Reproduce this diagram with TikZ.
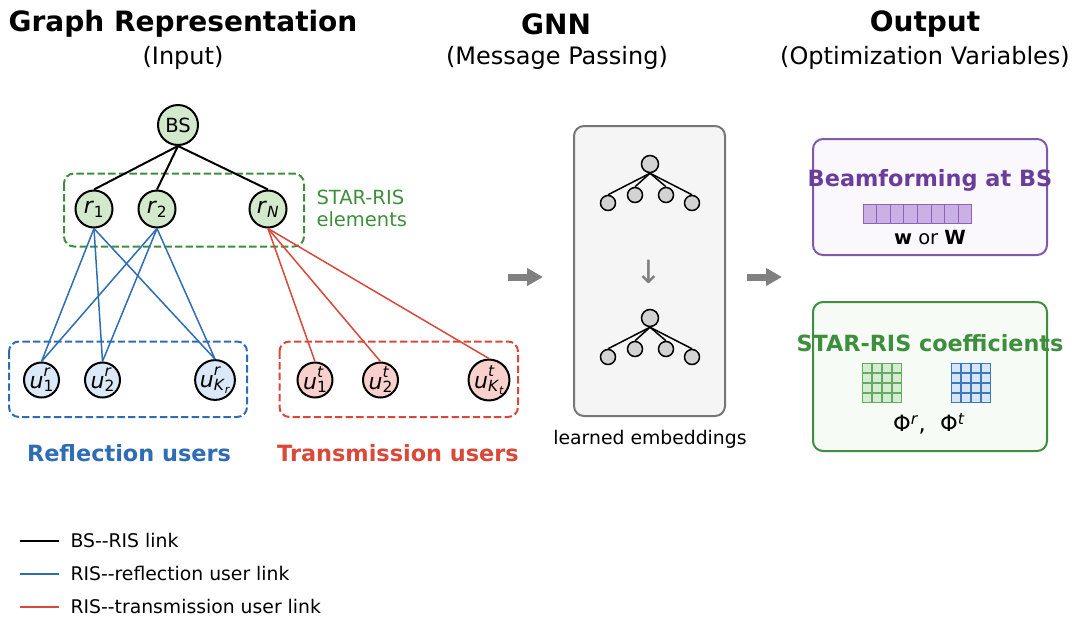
\documentclass[tikz,border=0pt]{standalone}
\usepackage{fontspec}
\setmainfont{DejaVu Sans}
\usetikzlibrary{arrows.meta}
\definecolor{nodegreen}{RGB}{210,233,204}
\definecolor{nodeblue}{RGB}{218,232,248}
\definecolor{nodered}{RGB}{248,208,204}
\definecolor{risgreen}{RGB}{61,143,61}
\definecolor{refblue}{RGB}{46,109,180}
\definecolor{trred}{RGB}{217,72,56}
\definecolor{purp}{RGB}{106,61,154}
\definecolor{purpborder}{RGB}{128,88,172}
\definecolor{purpfill}{RGB}{250,247,253}
\definecolor{greenfill}{RGB}{246,251,245}
\definecolor{cellpurp}{RGB}{203,176,227}
\definecolor{cellpurpb}{RGB}{140,100,185}
\definecolor{cellgreen}{RGB}{212,236,208}
\definecolor{cellgreenb}{RGB}{100,170,100}
\definecolor{cellblue}{RGB}{214,230,247}
\definecolor{cellblueb}{RGB}{60,120,190}
\definecolor{arrgray}{RGB}{128,128,128}
\definecolor{gnnfill}{RGB}{245,245,245}
\definecolor{gnnborder}{RGB}{118,118,118}
\definecolor{tinyfill}{RGB}{211,211,211}
\newcommand\mi[1]{\textit{#1}}
\newcommand\fsz[2]{\fontsize{#1pt}{#2pt}\selectfont}
\newcommand\ulab[3]{\mi{u}\rlap{\raisebox{11.5pt}{\fsz{15.4}{16}\mi{#1}}}\raisebox{-3.5pt}{\fsz{15.4}{16}#2}#3}
\newcommand\kss[1]{\mi{K}\raisebox{-2.5pt}{\fsz{11}{12}\mi{#1}}}
\begin{document}
\begin{tikzpicture}[x=1pt,y=-1pt,
  bsnode/.style={circle,draw,line width=2pt,fill=nodegreen,minimum size=40pt,inner sep=0pt,font=\fsz{19.5}{22}},
  rnode/.style={circle,draw,line width=2pt,fill=nodegreen,minimum size=37pt,inner sep=0pt,font=\fsz{22}{24}},
  urnode/.style={circle,draw,line width=2pt,fill=nodeblue,minimum size=35pt,inner sep=0pt,font=\fsz{22}{24}},
  utnode/.style={circle,draw,line width=2pt,fill=nodered,minimum size=35pt,inner sep=0pt,font=\fsz{22}{24}},
  grpbox/.style={draw,line width=2pt,dash pattern=on 7.4pt off 3.2pt,rounded corners=10pt},
  bslink/.style={line width=2pt,black},
  reflink/.style={line width=1.5pt,refblue},
  trlink/.style={line width=1.5pt,trred},
  tiny/.style={circle,draw,line width=1.5pt,fill=tinyfill,minimum size=15pt,inner sep=0pt},
  tinyroot/.style={circle,draw,line width=1.5pt,fill=tinyfill,minimum size=17pt,inner sep=0pt},
  tinylink/.style={line width=1.5pt,black},
  bigarrow/.style={line width=7pt,arrgray,-{Triangle[length=16pt,width=17pt]}},
  titletext/.style={font=\fsz{28}{32}\bfseries},
  subtext/.style={font=\fsz{24}{28}},
  legtext/.style={font=\fsz{18.8}{22},anchor=west},
  outbox/.style={draw,line width=2pt,rounded corners=10pt},
]
\useasboundingbox (0,0) rectangle (1073,619);

% titles
\node[titletext] (t1) at (183,24) {Graph Representation};
\node[subtext] (s1) at (183,58) {(Input)};
\node[titletext] (t2) at (556,24) {GNN};
\node[subtext] (s2) at (557,58) {(Message Passing)};
\node[titletext] (t3) at (925,24) {Output};
\node[subtext] (s3) at (925,58) {(Optimization Variables)};

% group boxes
\draw[grpbox,risgreen] (64,173.5) rectangle (304,246.5);
\draw[grpbox,refblue] (9,341.5) rectangle (247,417);
\draw[grpbox,trred] (279.5,341.5) rectangle (518,417);
\node[font=\fsz{19.5}{22},text=risgreen,anchor=west,align=left] (sre) at (313,208) {STAR-RIS\\elements};

% nodes
\node[bsnode] (BS) at (178,125) {BS};
\node[rnode] (r1) at (94,209) {\mi{r}\textsubscript{1}};
\node[rnode] (r2) at (157,209) {\mi{r}\textsubscript{2}};
\node[rnode] (rN) at (268,209) {\mi{r}\textsubscript{\mi{N}}};
\node[urnode] (ur1) at (41.5,380) {\ulab{r}{1}{}};
\node[urnode] (ur2) at (102.5,380) {\ulab{r}{2}{}};
\node[urnode] (urK) at (215,380) {\ulab{r}{\kss{r}}{}};
\node[utnode] (ut1) at (315,380) {\ulab{t}{1}{}};
\node[utnode] (ut2) at (380.5,380) {\ulab{t}{2}{}};
\node[utnode] (utK) at (489,380) {\ulab{t}{\kss{t}}{}};

% links
\draw[bslink] (BS.south) -- (r1.north);
\draw[bslink] (BS.south) -- (r2.north);
\draw[bslink] (BS.south) -- (rN.north);
\foreach \r in {r1,r2}{
  \foreach \u in {ur1,ur2,urK}{
    \draw[reflink] (\r.south) -- (\u.north);
  }
}
\foreach \u in {ut1,ut2,utK}{
  \draw[trlink] (rN.south) -- (\u.north);
}

\node[font=\fsz{22.4}{26}\bfseries,text=refblue] (rlab) at (129,453) {Reflection users};
\node[font=\fsz{22.4}{26}\bfseries,text=trred] (tlab) at (398,453) {Transmission users};

% big arrows
\coordinate (a1s) at (508,277);
\coordinate (a1e) at (543,277);
\coordinate (a2s) at (747,277);
\coordinate (a2e) at (782,277);
\draw[bigarrow] (a1s) -- (a1e);
\draw[bigarrow] (a2s) -- (a2e);

% GNN box
\node[draw=gnnborder,fill=gnnfill,line width=2pt,rounded corners=10pt,minimum width=151pt,minimum height=290pt,inner sep=0pt] (gnn) at (649.5,271) {};
\node[tinyroot] (g1r) at (650,164) {};
\node[tiny] (g1a) at (608,203) {};
\node[tiny] (g1b) at (635,195) {};
\node[tiny] (g1c) at (666,195) {};
\node[tiny] (g1d) at (692,203) {};
\foreach \c in {g1a,g1b,g1c,g1d}{\draw[tinylink] (g1r.south) -- (\c.north);}
\node[font=\fsz{32}{36},text=arrgray] (darr) at (649,272) {↓};
\node[tinyroot] (g2r) at (650,318) {};
\node[tiny] (g2a) at (608,357) {};
\node[tiny] (g2b) at (635,349) {};
\node[tiny] (g2c) at (666,349) {};
\node[tiny] (g2d) at (692,357) {};
\foreach \c in {g2a,g2b,g2c,g2d}{\draw[tinylink] (g2r.south) -- (\c.north);}
\node[font=\fsz{18.8}{22}] (le) at (650,439) {learned embeddings};

% output boxes
\draw[outbox,draw=purpborder,fill=purpfill] (813,139) rectangle (1047,255);
\node[font=\fsz{22.4}{26}\bfseries,text=purp] (bf) at (930,180) {Beamforming at BS};
\foreach \i in {0,...,7}{
  \draw[fill=cellpurp,draw=cellpurpb,line width=1pt] (863+13.6*\i,204.5) rectangle ++(13.6,18.5);
}
\node[font=\fsz{19.5}{22}] (wW) at (930,238) {\textbf{w} or \textbf{W}};

\draw[outbox,draw=risgreen,fill=greenfill] (813,302) rectangle (1047,451);
\node[font=\fsz{22.3}{26}\bfseries,text=risgreen] (sc) at (930,343) {STAR-RIS coefficients};
\foreach \i in {0,...,3}{
  \foreach \j in {0,...,3}{
    \draw[fill=cellgreen,draw=cellgreenb,line width=1pt] (862.5+10*\i,363.5+10*\j) rectangle ++(9,9);
    \draw[fill=cellblue,draw=cellblueb,line width=1pt] (951.5+10*\i,363.5+10*\j) rectangle ++(9,9);
  }
}
\node[font=\fsz{22.5}{26}] (phi) at (929,424) {Φ\textsuperscript{\mi{r}},\ \ Φ\textsuperscript{\mi{t}}};

% legend
\coordinate (l1a) at (20,541); \coordinate (l1b) at (59,541);
\coordinate (l2a) at (20,574); \coordinate (l2b) at (59,574);
\coordinate (l3a) at (20,607); \coordinate (l3b) at (59,607);
\draw[line width=2.2pt,black] (l1a) -- (l1b);
\draw[line width=2.2pt,refblue] (l2a) -- (l2b);
\draw[line width=2.2pt,trred] (l3a) -- (l3b);
\node[legtext] (lt1) at (67,540) {BS-{}-RIS link};
\node[legtext] (lt2) at (67,573) {RIS-{}-reflection user link};
\node[legtext] (lt3) at (67,606) {RIS-{}-transmission user link};
\end{tikzpicture}
\end{document}
